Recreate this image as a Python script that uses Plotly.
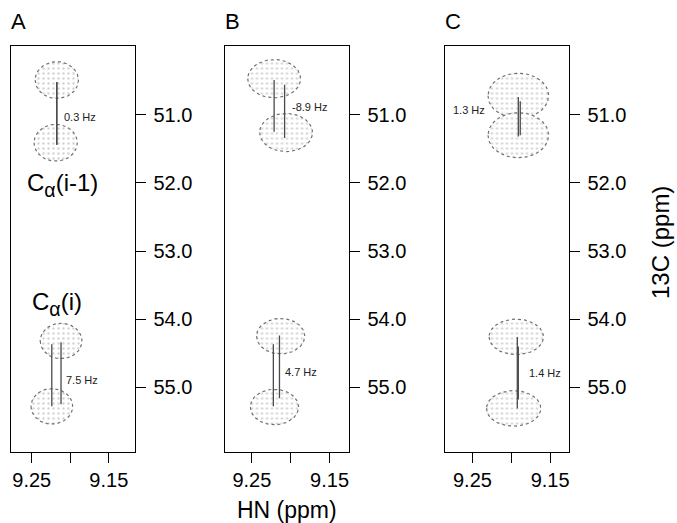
import numpy as np
import plotly.graph_objects as go

# ---------------- data ----------------
panels = ["A", "B", "C"]
x_ticks = [9.25, 9.20, 9.15]
x_ticktext = ["9.25", "", "9.15"]
y_ticks = [51.0, 52.0, 53.0, 54.0, 55.0]
y_ticktext = ["51.0", "52.0", "53.0", "54.0", "55.0"]

# one row per multiplet (panel, upper/lower component centres in HN / 13C ppm)
mult_panel = [0, 0, 1, 1, 2, 2]
up_hn = [9.2175, 9.212, 9.2214, 9.213, 9.191, 9.1936]
up_c = [50.49, 54.32, 50.47, 54.25, 50.72, 54.26]
dn_hn = [9.219, 9.224, 9.206, 9.221, 9.191, 9.197]
dn_c = [51.41, 55.28, 51.26, 55.29, 51.30, 55.31]
hw_hn = [0.028, 0.027, 0.034, 0.031, 0.039, 0.035]
hw_c = [0.27, 0.26, 0.28, 0.26, 0.33, 0.26]

# coupling lines (two per multiplet)
l1_hn = [9.2175, 9.224, 9.2214, 9.2224, 9.1910, 9.1923]
l1_c0 = [50.52, 54.37, 50.49, 54.37, 50.74, 54.26]
l1_c1 = [51.44, 55.28, 51.25, 55.28, 51.32, 55.31]
l2_hn = [9.2175, 9.212, 9.2079, 9.2145, 9.1885, 9.1910]
l2_c0 = [50.52, 54.34, 50.56, 54.24, 50.80, 54.40]
l2_c1 = [51.44, 55.25, 51.34, 55.16, 51.30, 55.18]

# coupling labels
j_text = ["0.3 Hz", "7.5 Hz", "-8.9 Hz", "4.7 Hz", "1.3 Hz", "1.4 Hz"]
j_hn = [9.211, 9.2084, 9.2013, 9.2096, 9.277, 9.1804]
j_c = [51.03, 54.90, 50.88, 54.78, 50.93, 54.79]

# assignment labels (panel A)
asg_text = ["C<span style='font-size:28px'><sub>α</sub></span>(i-1)",
            "C<span style='font-size:28px'><sub>α</sub></span>(i)"]
asg_hn = [9.210, 9.2175]
asg_c = [52.03, 53.78]

x_ranges = [[9.2769, 9.1167], [9.2853, 9.1256], [9.2860, 9.1264]]
y_range = [55.95, 49.99]

# ---------------- figure ----------------
W, H = 677, 523
x_dom = [[11 / W, 134.5 / W], [224.5 / W, 348.5 / W], [444.5 / W, 568.5 / W]]
y_dom = [1 - 452 / H, 1 - 46 / H]
FONT = "Liberation Sans"

fig = go.Figure()
t = np.linspace(0, 2 * np.pi, 80)

for k in range(len(mult_panel)):
    p = mult_panel[k]
    xa = "x" if p == 0 else f"x{p + 1}"
    ya = "y" if p == 0 else f"y{p + 1}"
    for cx, cy in ((up_hn[k], up_c[k]), (dn_hn[k], dn_c[k])):
        fig.add_trace(go.Scatter(
            x=cx + hw_hn[k] * np.cos(t), y=cy + hw_c[k] * np.sin(t),
            xaxis=xa, yaxis=ya, mode="lines", fill="toself",
            fillcolor="rgba(255,255,255,0)",
            fillpattern=dict(shape=".", fgcolor="#a8a8a8", bgcolor="white",
                             size=5, solidity=0.18),
            line=dict(color="#707070", width=1.2, dash="dot"),
            hoverinfo="skip", showlegend=False))
    for lx, c0, c1 in ((l1_hn[k], l1_c0[k], l1_c1[k]), (l2_hn[k], l2_c0[k], l2_c1[k])):
        fig.add_trace(go.Scatter(
            x=[lx, lx], y=[c0, c1], xaxis=xa, yaxis=ya, mode="lines",
            line=dict(color="#4a4a4a", width=1.3),
            hoverinfo="skip", showlegend=False))
    fig.add_annotation(x=j_hn[k], y=j_c[k], xref=xa, yref=ya, text=j_text[k],
                       showarrow=False, xanchor="left", yanchor="middle",
                       font=dict(family=FONT, size=11, color="#222"))

for i in range(2):
    fig.add_annotation(x=asg_hn[i], y=asg_c[i], xref="x", yref="y", text=asg_text[i],
                       showarrow=False, xanchor="center", yanchor="middle",
                       font=dict(family=FONT, size=24, color="black"))

layout = dict(width=W, height=H, margin=dict(l=0, r=0, t=0, b=0),
              paper_bgcolor="white", plot_bgcolor="white", showlegend=False)
for p in range(3):
    sx = "" if p == 0 else str(p + 1)
    layout["xaxis" + sx] = dict(
        domain=x_dom[p], range=x_ranges[p], anchor="y" + sx,
        tickvals=x_ticks, ticktext=x_ticktext, ticks="outside", ticklen=10,
        tickcolor="black", showline=True, linecolor="black", linewidth=1,
        mirror=True, showgrid=False, zeroline=False,
        tickfont=dict(family=FONT, size=20, color="black"))
    layout["yaxis" + sx] = dict(
        domain=y_dom, range=y_range, anchor="x" + sx, side="right",
        tickvals=y_ticks, ticktext=y_ticktext, ticks="outside", ticklen=10,
        ticklabelstandoff=4,
        tickcolor="black", showline=True, linecolor="black", linewidth=1,
        mirror=True, showgrid=False, zeroline=False,
        tickfont=dict(family=FONT, size=20, color="black"))
fig.update_layout(**layout)

# panel letters
for p, lab in enumerate(panels):
    fig.add_annotation(x=x_dom[p][0] - 2 / W, y=1 - 22 / H, xref="paper", yref="paper",
                       text=lab, showarrow=False, xanchor="left", yanchor="middle",
                       font=dict(family=FONT, size=22, color="black"))

fig.add_annotation(x=287 / W, y=1 - 510 / H, xref="paper", yref="paper",
                   text="HN (ppm)", showarrow=False, xanchor="center", yanchor="middle",
                   font=dict(family=FONT, size=23, color="black"))
fig.add_annotation(x=660 / W, y=1 - 243 / H, xref="paper", yref="paper",
                   text="13C (ppm)", showarrow=False, textangle=-90,
                   xanchor="center", yanchor="middle",
                   font=dict(family=FONT, size=24, color="black"))

fig.write_html("out.html")
